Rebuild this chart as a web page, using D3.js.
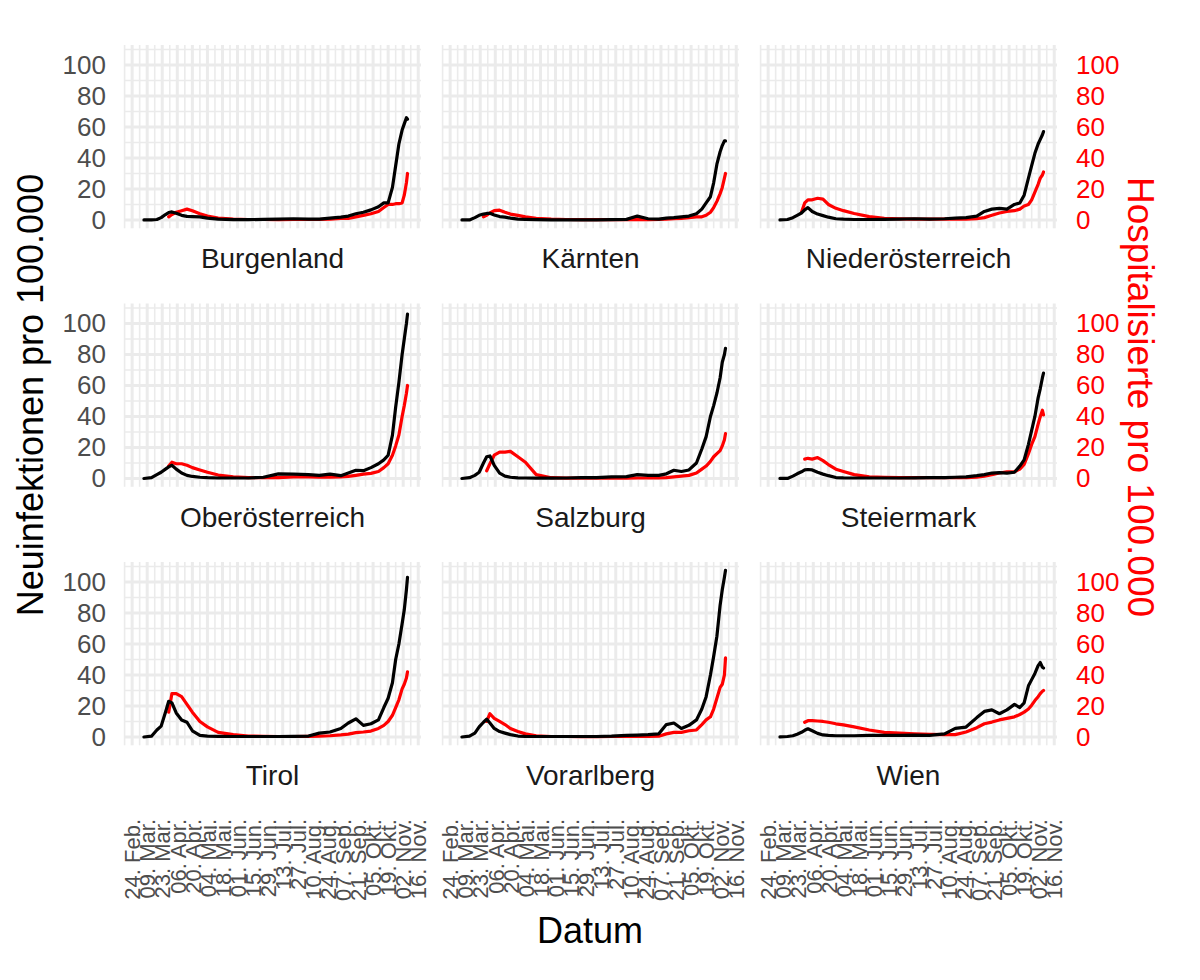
<!DOCTYPE html>
<html>
<head>
<meta charset="utf-8">
<script src="https://cdn.jsdelivr.net/npm/d3@7"></script>
<style>
  body { margin: 0; background: #ffffff; }
  svg { display: block; }
  text { font-family: "Liberation Sans", Arial, Helvetica, sans-serif; }
</style>
</head>
<body>
<svg id="chart" width="1200" height="980"></svg>
<script>
// ---------------- DATA ----------------
const regions = ["Burgenland", "Kärnten", "Niederösterreich", "Oberösterreich", "Salzburg", "Steiermark", "Tirol", "Vorarlberg", "Wien"];

// full date range of the data (rows before the first plotted value are empty)
const dateRange = ["2020-02-29", "2020-11-06"];

const dates = ["2020-03-06","2020-03-13","2020-03-18","2020-03-22","2020-03-26","2020-03-29",
  "2020-04-01","2020-04-05","2020-04-10","2020-04-15","2020-04-20","2020-04-27",
  "2020-05-04","2020-05-14","2020-05-28","2020-06-11","2020-06-25","2020-07-09","2020-07-23",
  "2020-08-06","2020-08-16","2020-08-26","2020-09-05","2020-09-12","2020-09-19","2020-09-26",
  "2020-10-03","2020-10-10","2020-10-15","2020-10-19","2020-10-23","2020-10-26","2020-10-29",
  "2020-11-01","2020-11-03","2020-11-05","2020-11-06"];

// Neuinfektionen pro 100.000 (black)
const neuBurgenland = [0,0,0.3,1.5,3.5,4.8,5.2,4.3,3,2.3,2.2,2.0,1.2,0.5,0.2,0.2,0.4,0.6,0.8,0.5,0.6,1.2,1.8,2.5,4,5,6.5,8.5,11,11,21,35,49,58,62,66,65];
const neuKaernten = [0,0,1.5,3,3.8,4.2,4.3,3.2,2.2,1.8,1.2,0.6,0.4,0.2,0.1,0.1,0.1,0.1,0.2,0.4,2.5,0.8,0.6,1.2,1.5,2,2.5,4,7,11,15,24,36,44,48,51,51];
const neuNiederoesterreich = [0,0.3,1.5,3,4.5,6.5,8,5.5,3.8,2.8,1.8,0.8,0.5,0.3,0.3,0.4,0.6,0.8,0.6,0.8,1.2,1.5,2.5,5.5,7,7.5,7,10,11,16,27,35,43,49,52,55,57];
const neuOberoesterreich = [0,0.5,2.5,4,6,7.5,8.5,6,3.5,2,1.3,0.8,0.5,0.3,0.3,0.3,0.8,3,2.8,2.5,2,2.8,1.8,3.5,5.3,5,7,9.5,12,15,28,46,62,80,90,100,106];
const neuSalzburg = [0,0.5,2,4,10,14,14.5,8.5,3.5,1.5,0.8,0.4,0.3,0.2,0.2,0.3,0.5,0.5,1,1.2,2.5,2,2,3,5.3,4.5,5.5,10,19,27,40,47,55,65,75,80,84];
const neuSteiermark = [0,0,1.5,3,4.3,5.5,5.8,5.5,4,2.8,1.8,0.6,0.4,0.3,0.3,0.3,0.3,0.4,0.5,0.6,0.8,1,1.8,2.5,3.5,3.8,3.4,4,8,12,22,31,40,52,58,65,68];
const neuTirol = [0,0.5,4.5,7,16,23,22,15.5,11,9.5,4,1,0.6,0.4,0.3,0.3,0.3,0.3,0.4,0.6,2.5,3.2,5.5,9,11.7,7.5,8.5,11,19,25,35,50,60,73,82,95,103];
const neuVorarlberg = [0,0.5,2.5,6.5,9.5,11.5,9,5.5,3.5,2.5,1.5,0.6,0.4,0.3,0.3,0.3,0.3,0.3,0.5,1,1.2,1.5,2,8,9,5.5,7.5,11,18,26,40,52,65,85,95,103,107.5];
const neuWien = [0,0.3,0.8,1.8,3,4.3,5.3,4,2.3,1.3,1,0.8,0.8,0.8,1,1,1,1.2,1,2,5.5,6.4,12.5,16.5,17.5,15,17.5,21,19,22,33,37,41,46,48,45,44.5];

// Hospitalisierte pro 100.000 (red)
const hospBurgenland = [null,null,null,null,null,2,3.5,5,6,7,6,4,2.5,1.2,0.5,0.3,0.3,0.2,0.3,0.3,0.3,0.5,1,1,2,3,4,5.5,8,10,10,10.5,10.5,11,16,24,30];
const hospKaernten = [null,null,null,null,2,3,4.5,6,6.3,5,3.8,3,2,1,0.5,0.3,0.2,0.2,0.2,0.2,0.2,0.2,0.3,0.5,0.8,1,1.5,2,2,3,5,8,12,17,21,27,30];
const hospNiederoesterreich = [null,null,null,null,5,11,13,13,14,13.5,10,7.5,6,4.2,2.2,1,0.7,0.5,0.5,0.5,0.5,0.6,0.8,1.5,3,4.5,5.5,6,7,9,10,13,18,23,27,29,31];
const hospOberoesterreich = [null,null,null,null,null,8,10.5,9.5,9.5,8.5,7,5.5,4,2.2,1,0.6,0.5,0.6,1,1,0.8,0.8,1,1.3,2,2.8,3.3,4.5,7,9.5,15,21,28,40,47,55,60];
const hospSalzburg = [null,null,null,null,null,5,9.5,15,17,17,17.5,14,10.5,2.5,0.5,0.2,0.2,0.2,0.2,0.2,0.3,0.3,0.3,0.5,1,1.5,2,3.5,6,8,11,14,16,18,21,25,29];
const hospSteiermark = [null,null,null,null,null,12.5,13,12.5,13.5,11.5,9,6,4.5,2.5,1,0.7,0.5,0.5,0.5,0.5,0.5,0.5,0.8,1.5,2.5,3.5,4.3,4.3,6,9,16,22,27,35,40,44,41];
const hospTirol = [null,null,null,null,null,16,28,28,26,21,16,10,6.5,3,1.5,0.6,0.4,0.3,0.3,0.4,0.6,0.8,1.3,1.8,2.8,3.2,3.8,5.5,7.5,10,14,19,24,31,34,38,42];
const hospVorarlberg = [null,null,null,null,null,10,15,12,10,8,5.5,3.5,2,0.8,0.3,0.3,0.2,0.2,0.3,0.3,0.4,0.4,0.5,2,3,3,4,4.5,8,11,13,18,25,32,34,40,51];
const hospWien = [null,null,null,null,null,9.5,10.5,10.5,10.3,10,9.5,8.5,7.8,6.5,4.5,3,2.5,2,1.7,1.5,1.5,3.2,6,8.5,9.6,11,12,13,14.5,16,18,20.5,23.5,26,28,29.5,30];

// axis breaks and labels
const tickDates = ["2020-02-24","2020-03-09","2020-03-23","2020-04-06","2020-04-20","2020-05-04","2020-05-18","2020-06-01","2020-06-15","2020-06-29","2020-07-13","2020-07-27","2020-08-10","2020-08-24","2020-09-07","2020-09-21","2020-10-05","2020-10-19","2020-11-02","2020-11-16"];
const tickLabels = ["24. Feb.","09. Mar.","23. Mar.","06. Apr.","20. Apr.","04. Mai.","18. Mai.","01. Jun.","15. Jun.","29. Jun.","13. Jul.","27. Jul.","10. Aug.","24. Aug.","07. Sep.","21. Sep.","05. Okt.","19. Okt.","02. Nov.","16. Nov."];
const minorDates = ["2020-02-17","2020-03-02","2020-03-16","2020-03-30","2020-04-13","2020-04-27","2020-05-11","2020-05-25","2020-06-08","2020-06-22","2020-07-06","2020-07-20","2020-08-03","2020-08-17","2020-08-31","2020-09-14","2020-09-28","2020-10-12","2020-10-26","2020-11-09"];
const yTicks = [0, 20, 40, 60, 80, 100];
const yMinor = [10, 30, 50, 70, 90, 110];

const neuList = [neuBurgenland, neuKaernten, neuNiederoesterreich, neuOberoesterreich, neuSalzburg, neuSteiermark, neuTirol, neuVorarlberg, neuWien];
const hospList = [hospBurgenland, hospKaernten, hospNiederoesterreich, hospOberoesterreich, hospSalzburg, hospSteiermark, hospTirol, hospVorarlberg, hospWien];

// ---------------- LAYOUT ----------------
const parse = d3.utcParse("%Y-%m-%d");
const panelW = 297, panelH = 183.3;
const colX = [124, 442, 760];
const rowY = [45, 303.5, 562];
const gridColor = "#EBEBEB";
const textGrey = "#4D4D4D";
const red = "#FF0000";

const dt = dates.map(parse);
const d0 = parse(dateRange[0]), d1 = parse(dateRange[1]);
const span = d1 - d0;
const x = d3.scaleUtc()
  .domain([new Date(+d0 - span * 0.05), new Date(+d1 + span * 0.05)])
  .range([0, panelW]);

const allVals = neuList.concat(hospList).flat().filter(v => v != null);
const yMax = d3.max(allVals), yMin = 0;
const yPad = (yMax - yMin) * 0.05;
const y = d3.scaleLinear().domain([yMin - yPad, yMax + yPad]).range([panelH, 0]);

const svg = d3.select("#chart");
svg.append("rect").attr("width", 1200).attr("height", 980).attr("fill", "#ffffff");

const line = d3.line()
  .defined(d => d.v != null)
  .x(d => x(d.t))
  .y(d => y(d.v));

regions.forEach((name, i) => {
  const col = i % 3, row = Math.floor(i / 3);
  const g = svg.append("g").attr("transform", `translate(${colX[col]},${rowY[row]})`);

  // grid
  g.selectAll(".vminor").data(minorDates.map(parse)).join("line")
    .attr("x1", d => x(d)).attr("x2", d => x(d)).attr("y1", 0).attr("y2", panelH)
    .attr("stroke", gridColor).attr("stroke-width", 1.6);
  g.selectAll(".hminor").data(yMinor).join("line")
    .attr("x1", 0).attr("x2", panelW).attr("y1", d => y(d)).attr("y2", d => y(d))
    .attr("stroke", gridColor).attr("stroke-width", 1.6);
  g.selectAll(".vmajor").data(tickDates.map(parse)).join("line")
    .attr("x1", d => x(d)).attr("x2", d => x(d)).attr("y1", 0).attr("y2", panelH)
    .attr("stroke", gridColor).attr("stroke-width", 3);
  g.selectAll(".hmajor").data(yTicks).join("line")
    .attr("x1", 0).attr("x2", panelW).attr("y1", d => y(d)).attr("y2", d => y(d))
    .attr("stroke", gridColor).attr("stroke-width", 3);

  const hosp = hospList[i].map((v, j) => ({ t: dt[j], v }));
  const neu = neuList[i].map((v, j) => ({ t: dt[j], v }));

  g.append("path").datum(hosp).attr("d", line)
    .attr("fill", "none").attr("stroke", red).attr("stroke-width", 3.2)
    .attr("stroke-linejoin", "round").attr("stroke-linecap", "round");
  g.append("path").datum(neu).attr("d", line)
    .attr("fill", "none").attr("stroke", "#000000").attr("stroke-width", 3.2)
    .attr("stroke-linejoin", "round").attr("stroke-linecap", "round");

  // strip label (bottom)
  g.append("text")
    .attr("x", panelW / 2).attr("y", panelH + 40)
    .attr("text-anchor", "middle")
    .attr("font-size", 28).attr("fill", "#1A1A1A")
    .text(name);

  // left axis
  if (col === 0) {
    const ax = g.append("g").call(d3.axisLeft(y).tickValues(yTicks).tickSize(0).tickPadding(18));
    ax.select(".domain").remove();
    ax.selectAll("text").attr("font-size", 26).attr("fill", textGrey)
      .attr("font-family", "Liberation Sans, Arial, sans-serif");
  }
  // right (secondary) axis
  if (col === 2) {
    const ax = g.append("g").attr("transform", `translate(${panelW},0)`)
      .call(d3.axisRight(y).tickValues(yTicks).tickSize(0).tickPadding(19));
    ax.select(".domain").remove();
    ax.selectAll("text").attr("font-size", 26).attr("fill", red)
      .attr("font-family", "Liberation Sans, Arial, sans-serif");
  }
  // bottom axis
  if (row === 2) {
    const ax = g.append("g").attr("transform", `translate(0,${819 - rowY[row]})`)
      .call(d3.axisBottom(x).tickValues(tickDates.map(parse)).tickSize(0)
        .tickFormat((d, k) => tickLabels[k]));
    ax.select(".domain").remove();
    ax.selectAll("text")
      .attr("transform", "rotate(-90)")
      .attr("x", 0).attr("y", 0).attr("dy", "0.35em")
      .attr("text-anchor", "end")
      .attr("font-size", 22).attr("fill", textGrey)
      .attr("font-family", "Liberation Sans, Arial, sans-serif");
  }
});

// axis titles
svg.append("text")
  .attr("transform", "translate(30,395) rotate(-90)")
  .attr("dy", "0.35em").attr("text-anchor", "middle")
  .attr("font-size", 36).attr("fill", "#000000")
  .text("Neuinfektionen pro 100.000");

svg.append("text")
  .attr("transform", "translate(1141,397) rotate(90)")
  .attr("dy", "0.35em").attr("text-anchor", "middle")
  .attr("font-size", 37).attr("fill", red)
  .text("Hospitalisierte pro 100.000");

svg.append("text")
  .attr("x", 590).attr("y", 943)
  .attr("text-anchor", "middle")
  .attr("font-size", 36).attr("fill", "#000000")
  .text("Datum");
</script>
</body>
</html>
